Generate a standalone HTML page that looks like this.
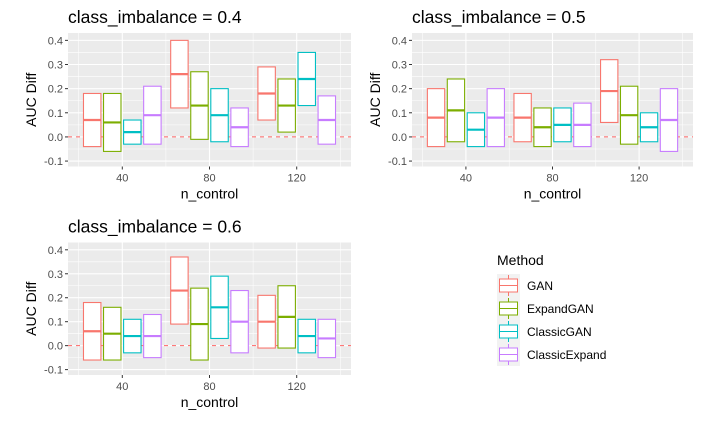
<!DOCTYPE html>
<html><head><meta charset="utf-8"><style>
body{margin:0;background:#fff;}
svg{display:block;font-family:"Liberation Sans",sans-serif;}
</style></head><body>
<svg id="chart" width="704" height="421" viewBox="0 0 704 421"></svg>
<script>
const methods = ["GAN","ExpandGAN","ClassicGAN","ClassicExpand"];
const colors = ["#F8766D","#7CAE00","#00BFC4","#C77CFF"];
const nControl = [40,80,120];
const panelTitles = ["class_imbalance = 0.4","class_imbalance = 0.5","class_imbalance = 0.6"];
const yTicks = [-0.1,0,0.1,0.2,0.3,0.4];
const yTickLabels = ["-0.1","0.0","0.1","0.2","0.3","0.4"];
// values [lo, mid, hi] per panel, n_control, method
const p04 = [[[-0.04,0.07,0.18],[-0.06,0.06,0.18],[-0.03,0.02,0.07],[-0.03,0.09,0.21]],
             [[0.12,0.26,0.40],[-0.01,0.13,0.27],[-0.02,0.09,0.20],[-0.04,0.04,0.12]],
             [[0.07,0.18,0.29],[0.02,0.13,0.24],[0.13,0.24,0.35],[-0.03,0.07,0.17]]];
const p05 = [[[-0.04,0.08,0.20],[-0.02,0.11,0.24],[-0.04,0.03,0.10],[-0.04,0.08,0.20]],
             [[-0.02,0.08,0.18],[-0.04,0.04,0.12],[-0.02,0.05,0.12],[-0.04,0.05,0.14]],
             [[0.06,0.19,0.32],[-0.03,0.09,0.21],[-0.02,0.04,0.10],[-0.06,0.07,0.20]]];
const p06 = [[[-0.06,0.06,0.18],[-0.06,0.05,0.16],[-0.03,0.04,0.11],[-0.05,0.04,0.13]],
             [[0.09,0.23,0.37],[-0.06,0.09,0.24],[0.03,0.16,0.29],[-0.03,0.10,0.23]],
             [[-0.01,0.10,0.21],[-0.01,0.12,0.25],[-0.03,0.04,0.11],[-0.05,0.03,0.11]]];
const panelData = [p04,p05,p06];

const NS="http://www.w3.org/2000/svg";
const svg=document.getElementById('chart');
function el(tag,attrs,parent){const e=document.createElementNS(NS,tag);for(const k in attrs)e.setAttribute(k,attrs[k]);(parent||svg).appendChild(e);return e;}

const panels=[{x0:68,x1:351,y0:33,y1:166.5},{x0:412,x1:693,y0:33,y1:166.5},{x0:68,x1:351,y0:242.5,y1:375}];
const xMin=15.1,xMax=144.9,yMin=-0.1225,yMax=0.4305;

panels.forEach((p,pi)=>{
  const g=el('g',{});
  
  
  const xs=v=>p.x0+(v-xMin)/(xMax-xMin)*(p.x1-p.x0);
  const ys=v=>p.y1-(v-yMin)/(yMax-yMin)*(p.y1-p.y0);
  const bg=el('rect',{x:p.x0,y:p.y0,width:p.x1-p.x0,height:p.y1-p.y0,fill:'#EBEBEB'},g);
  
  
  for(let i=0;i<yTicks.length-1;i++){const m=(yTicks[i]+yTicks[i+1])/2;el('line',{x1:p.x0,x2:p.x1,y1:ys(m),y2:ys(m),stroke:'#fff','stroke-width':0.55},g);}
  [20,60,100,140].forEach(m=>el('line',{x1:xs(m),x2:xs(m),y1:p.y0,y2:p.y1,stroke:'#fff','stroke-width':0.55},g));
  yTicks.forEach((t,i)=>{
    el('line',{x1:p.x0,x2:p.x1,y1:ys(t),y2:ys(t),stroke:'#fff','stroke-width':1.1},g);
    el('line',{x1:p.x0-3,x2:p.x0,y1:ys(t),y2:ys(t),stroke:'#333','stroke-width':1},g);
    const tl=el('text',{x:p.x0-5,y:ys(t)+4,'text-anchor':'end','font-size':'11px',fill:'#4D4D4D'},g);
    
    
    tl.textContent=yTickLabels[i];
  });
  nControl.forEach(n=>{
    el('line',{x1:xs(n),x2:xs(n),y1:p.y0,y2:p.y1,stroke:'#fff','stroke-width':1.1},g);
    el('line',{x1:xs(n),x2:xs(n),y1:p.y1,y2:p.y1+3,stroke:'#333','stroke-width':1},g);
    const tl=el('text',{x:xs(n),y:p.y1+15,'text-anchor':'middle','font-size':'11px',fill:'#4D4D4D'},g);
    
    
    tl.textContent=n;
  });
  const zl=el('line',{x1:p.x0,x2:p.x1,y1:ys(0),y2:ys(0),stroke:'#FF6666','stroke-width':1,'stroke-dasharray':'4,4'},g);
  
  
  const data=panelData[pi];
  nControl.forEach((n,ni)=>{
    methods.forEach((m,mi)=>{
      const c=n+(mi-1.5)*9.2, w=8;
      const [lo,mid,hi]=data[ni][mi];
      const r=el('rect',{x:xs(c-w/2),y:ys(hi),width:xs(c+w/2)-xs(c-w/2),height:ys(lo)-ys(hi),fill:'#fff',stroke:colors[mi],'stroke-width':1.1},g);
      
      
      el('line',{x1:xs(c-w/2),x2:xs(c+w/2),y1:ys(mid),y2:ys(mid),stroke:colors[mi],'stroke-width':2.2},g);
    });
  });
  const t=el('text',{x:p.x0,y:p.y0-10,'font-size':'17.5px',fill:'#000'},g);
  
  
  t.textContent=panelTitles[pi];
  const xt=el('text',{x:(p.x0+p.x1)/2,y:p.y1+32,'text-anchor':'middle','font-size':'14px',fill:'#000'},g);
  
  
  xt.textContent='n_control';
  const yt=el('text',{x:0,y:0,'text-anchor':'middle','font-size':'14px',fill:'#000',transform:`translate(${p.x0-32},${(p.y0+p.y1)/2}) rotate(-90)`},g);
  
  
  yt.textContent='AUC Diff';
});

const lg=el('g',{});


const lt=el('text',{x:497,y:265,'font-size':'14px',fill:'#000'},lg);


lt.textContent='Method';
methods.forEach((m,i)=>{
  const y=274+i*23;
  const e=el('g',{},lg);
  
  
  el('rect',{x:497,y:y,width:23,height:23,fill:'#F2F2F2'},e);
  el('line',{x1:508.5,x2:508.5,y1:y+1,y2:y+22,stroke:colors[i],'stroke-width':1},e);
  el('rect',{x:499.5,y:y+5,width:18,height:13,fill:'#fff',stroke:colors[i],'stroke-width':1},e);
  el('line',{x1:499.5,x2:517.5,y1:y+11.5,y2:y+11.5,stroke:colors[i],'stroke-width':1},e);
  const tx=el('text',{x:527,y:y+16,'font-size':'12px',fill:'#000'},e);
  tx.textContent=m;
});
</script>
</body></html>
